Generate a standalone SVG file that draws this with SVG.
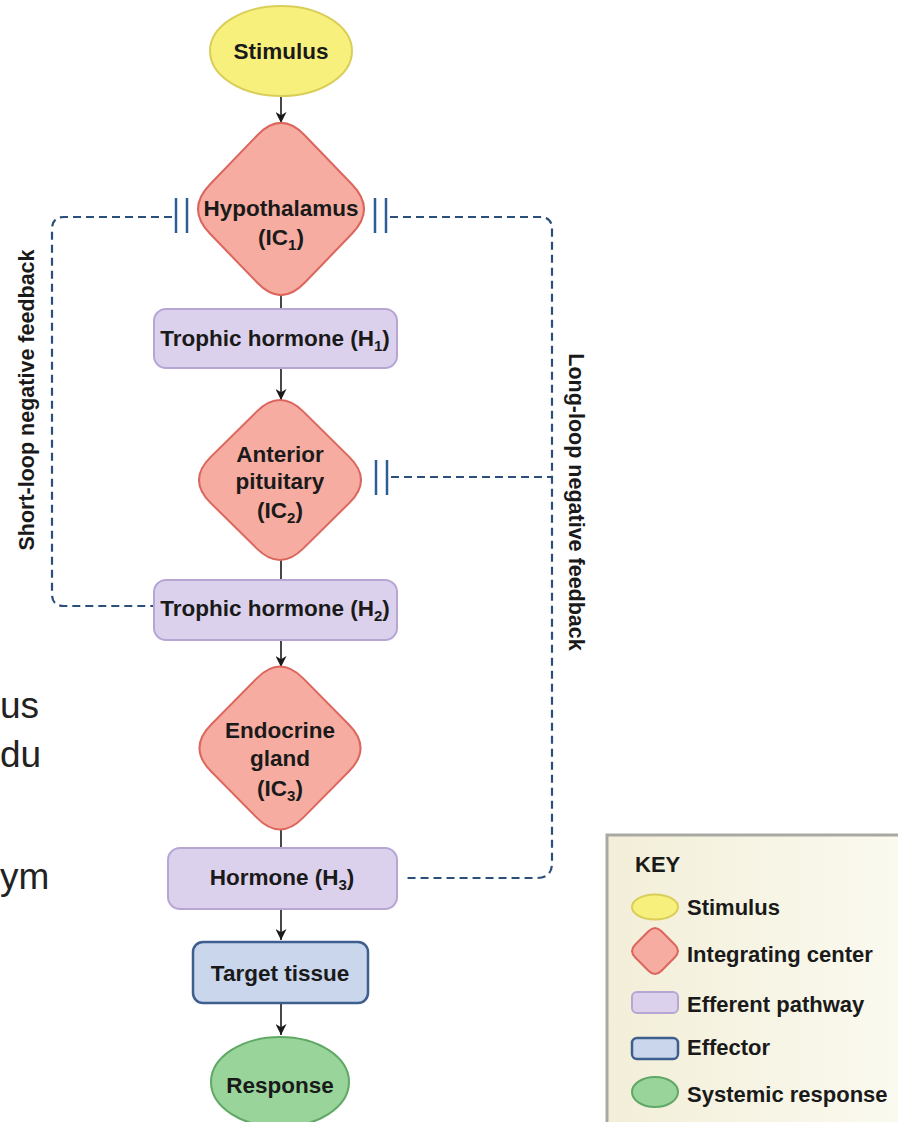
<svg xmlns="http://www.w3.org/2000/svg" width="898" height="1122" viewBox="0 0 898 1122">
<defs>
<style>
.t{font-family:"Liberation Sans",Arial,sans-serif;font-weight:bold;font-size:22.5px;fill:#1a1a1a;text-anchor:middle}
.k{font-family:"Liberation Sans",Arial,sans-serif;font-weight:bold;font-size:22px;fill:#1a1a1a}
.lab{font-family:"Liberation Sans",Arial,sans-serif;font-weight:bold;font-size:21.5px;fill:#1a1a1a;text-anchor:middle}
.frag{font-family:"Liberation Sans",Arial,sans-serif;font-size:37px;fill:#222}
.dia{fill:#f6aca1;stroke:#dc665d;stroke-width:2}
.eff{fill:#dcd1ec;stroke:#b7a6d4;stroke-width:2}
.stim{fill:#f8f07c;stroke:#d9ce58;stroke-width:2}
.tgt{fill:#c9d6ec;stroke:#3e5f8e;stroke-width:2.5}
.resp{fill:#99d49b;stroke:#5fa866;stroke-width:2}
.flow{stroke:#1a1a1a;stroke-width:1.6;fill:none}
.fb{stroke:#2b4f7a;stroke-width:2.2;fill:none;stroke-dasharray:8 5}
.bar{stroke:#2d5d94;stroke-width:2.5}
.sub{font-size:15px}
</style>
<path id="diamond" d="M 23.4,-70.3 L 70.3,-23.4 Q 93.7,0 70.3,23.4 L 23.4,70.3 Q 0,93.7 -23.4,70.3 L -70.3,23.4 Q -93.7,0 -70.3,-23.4 L -23.4,-70.3 Q 0,-93.7 23.4,-70.3 Z"/>
<marker id="arr" viewBox="0 0 10 10" refX="10" refY="5" markerWidth="11" markerHeight="11" markerUnits="userSpaceOnUse" orient="auto">
<path d="M0,0 L10,5 L0,10 L3,5 Z" fill="#1a1a1a"/>
</marker>
<linearGradient id="keybg" x1="0" y1="0" x2="1" y2="0">
<stop offset="0" stop-color="#f2eed8"/>
<stop offset="1" stop-color="#fbfaf0"/>
</linearGradient>
</defs>
<rect width="898" height="1122" fill="#fff"/>

<g id="fragments">
<text class="frag" x="0" y="718">us</text>
<text class="frag" x="0" y="767">du</text>
<text class="frag" x="0" y="889">ym</text>
</g>

<g id="connectors">
<line class="flow" x1="281" y1="97" x2="281" y2="123" marker-end="url(#arr)"/>
<line class="flow" x1="281" y1="294" x2="281" y2="309"/>
<line class="flow" x1="281" y1="368" x2="281" y2="400" marker-end="url(#arr)"/>
<line class="flow" x1="281" y1="559" x2="281" y2="580"/>
<line class="flow" x1="281" y1="640" x2="281" y2="667" marker-end="url(#arr)"/>
<line class="flow" x1="281" y1="829" x2="281" y2="848"/>
<line class="flow" x1="281" y1="909" x2="281" y2="940" marker-end="url(#arr)"/>
<line class="flow" x1="281" y1="1003" x2="281" y2="1035" marker-end="url(#arr)"/>
<path class="fb" d="M 172 217 H 64 Q 52 217 52 229 V 594 Q 52 606 64 606 H 154"/>
<path class="fb" d="M 390 217 H 540 Q 552 217 552 229 V 863 Q 552 878 537 878 H 403"/>
<path class="fb" d="M 391 477 H 552"/>
<line class="bar" x1="176" y1="198" x2="176" y2="233"/>
<line class="bar" x1="187" y1="198" x2="187" y2="233"/>
<line class="bar" x1="375" y1="198" x2="375" y2="233"/>
<line class="bar" x1="386" y1="198" x2="386" y2="233"/>
<line class="bar" x1="376" y1="460" x2="376" y2="495"/>
<line class="bar" x1="387" y1="460" x2="387" y2="495"/>
<text class="lab" transform="translate(34,400) rotate(-90)">Short-loop negative feedback</text>
<text class="lab" transform="translate(569,502) rotate(90)">Long-loop negative feedback</text>
</g>

<g id="stimulus">
<ellipse class="stim" cx="281" cy="51" rx="71" ry="45"/>
<text class="t" x="281" y="59">Stimulus</text>
</g>

<g id="hypothalamus">
<use href="#diamond" class="dia" transform="translate(281,209) scale(1.012,1.049)"/>
<text class="t" x="281" y="216">Hypothalamus</text>
<text class="t" x="281" y="245">(IC<tspan class="sub" dy="5">1</tspan><tspan dy="-5">)</tspan></text>
</g>

<g id="trophic1">
<rect class="eff" x="154" y="309" width="243" height="59" rx="12"/>
<text class="t" x="275" y="346">Trophic hormone (H<tspan class="sub" dy="5">1</tspan><tspan dy="-5">)</tspan></text>
</g>

<g id="pituitary">
<use href="#diamond" class="dia" transform="translate(280,480) scale(0.988,0.976)"/>
<text class="t" x="280" y="462">Anterior</text>
<text class="t" x="280" y="489">pituitary</text>
<text class="t" x="280" y="518">(IC<tspan class="sub" dy="5">2</tspan><tspan dy="-5">)</tspan></text>
</g>

<g id="trophic2">
<rect class="eff" x="154" y="580" width="243" height="60" rx="12"/>
<text class="t" x="275" y="616">Trophic hormone (H<tspan class="sub" dy="5">2</tspan><tspan dy="-5">)</tspan></text>
</g>

<g id="endocrine">
<use href="#diamond" class="dia" transform="translate(280,748) scale(0.982,0.994)"/>
<text class="t" x="280" y="738">Endocrine</text>
<text class="t" x="280" y="766">gland</text>
<text class="t" x="280" y="796">(IC<tspan class="sub" dy="5">3</tspan><tspan dy="-5">)</tspan></text>
</g>

<g id="hormone3">
<rect class="eff" x="168" y="848" width="229" height="61" rx="12"/>
<text class="t" x="282" y="885">Hormone (H<tspan class="sub" dy="5">3</tspan><tspan dy="-5">)</tspan></text>
</g>

<g id="target">
<rect class="tgt" x="193" y="942" width="175" height="61" rx="10"/>
<text class="t" x="280" y="981">Target tissue</text>
</g>

<g id="response">
<ellipse class="resp" cx="280" cy="1082" rx="69" ry="45"/>
<text class="t" x="280" y="1093">Response</text>
</g>

<g id="key">
<rect x="607" y="835" width="300" height="300" fill="url(#keybg)" stroke="#a9a9a4" stroke-width="3"/>
<text class="k" x="635" y="872" style="font-weight:900">KEY</text>
<ellipse class="stim" cx="655" cy="907" rx="23" ry="12.5"/>
<text class="k" x="687" y="915">Stimulus</text>
<use href="#diamond" class="dia" transform="translate(655,951) scale(0.28,0.28)" style="stroke-width:7"/>
<text class="k" x="687" y="962">Integrating center</text>
<rect class="eff" x="632" y="992" width="46" height="21" rx="5"/>
<text class="k" x="687" y="1012">Efferent pathway</text>
<rect class="tgt" x="632" y="1038" width="46" height="21" rx="5"/>
<text class="k" x="687" y="1055">Effector</text>
<ellipse class="resp" cx="655" cy="1092" rx="23" ry="15"/>
<text class="k" x="687" y="1102">Systemic response</text>
</g>
</svg>
